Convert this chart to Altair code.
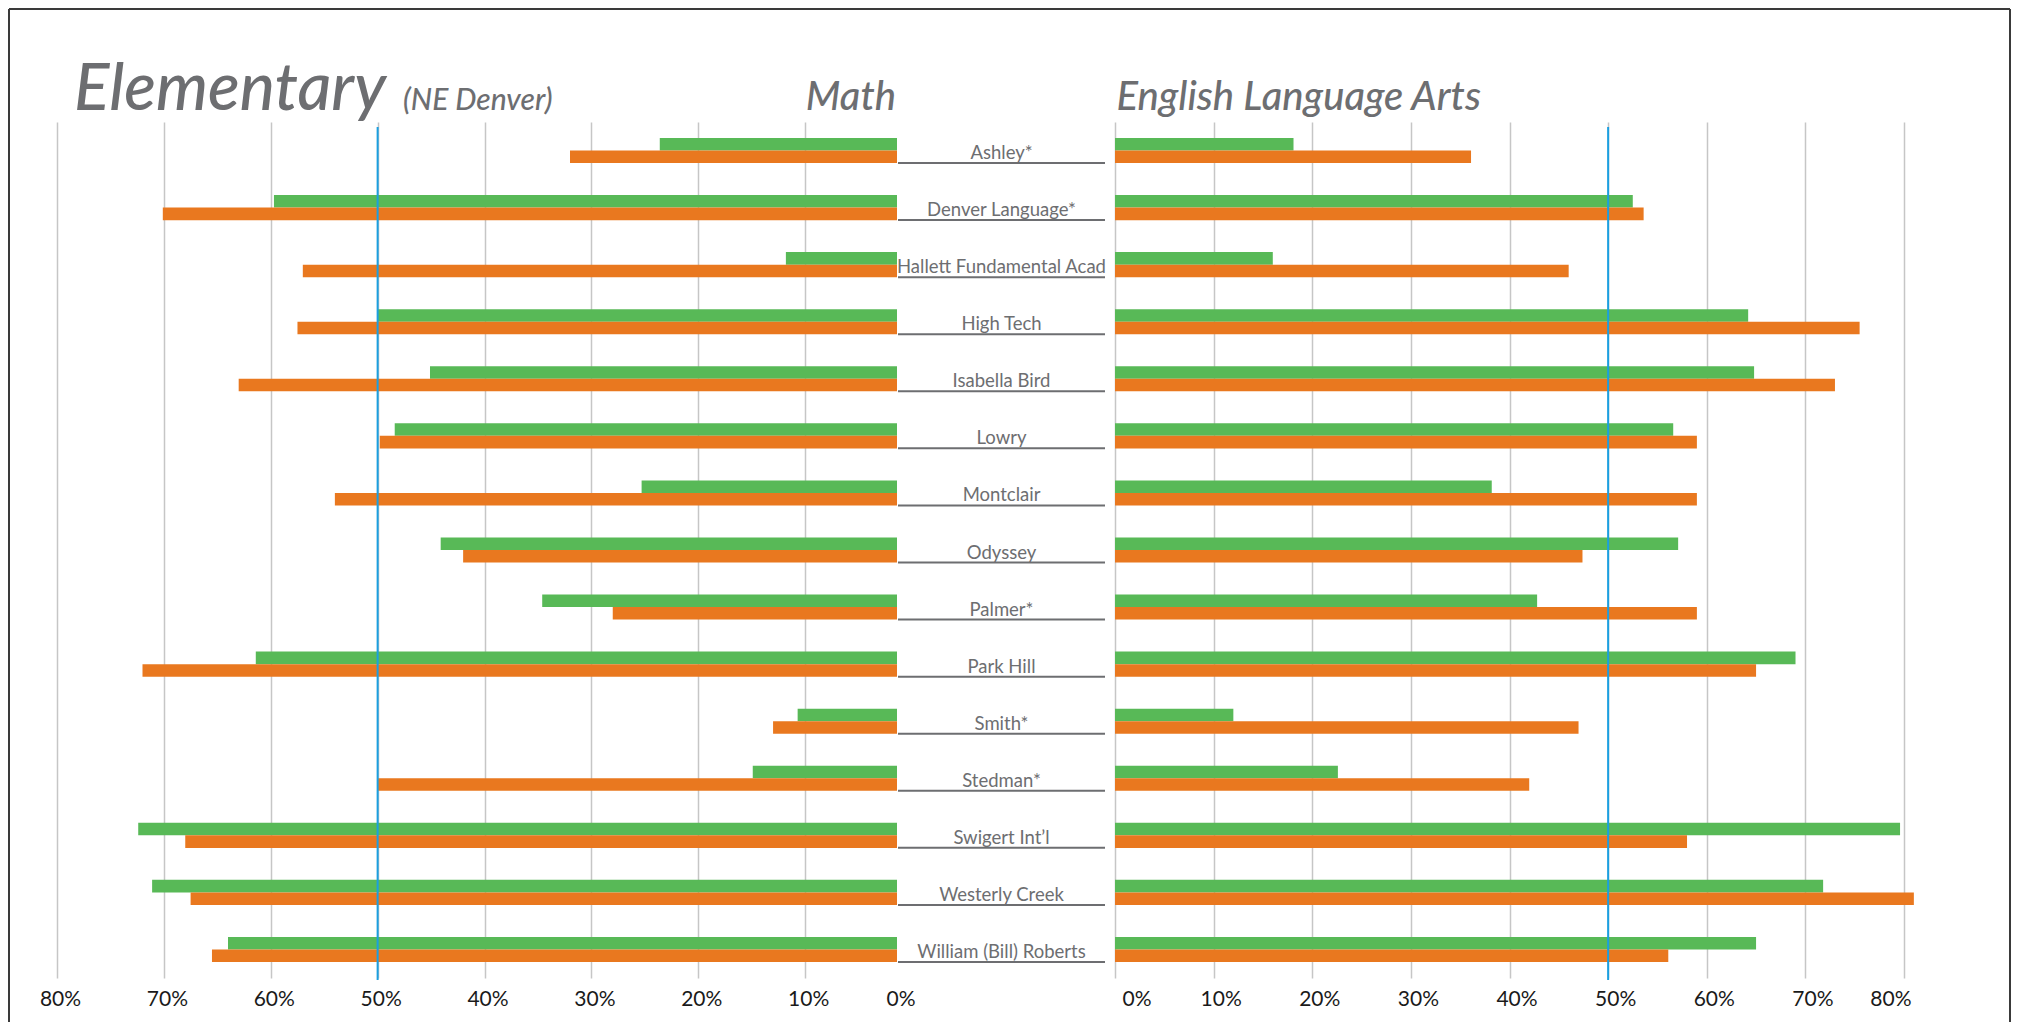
import altair as alt
import pandas as pd

# ---------------- data ----------------
schools = [
    "Ashley*", "Denver Language*", "Hallett Fundamental Acad", "High Tech",
    "Isabella Bird", "Lowry", "Montclair", "Odyssey", "Palmer*", "Park Hill",
    "Smith*", "Stedman*", "Swigert Int\u2019l", "Westerly Creek",
    "William (Bill) Roberts",
]
series_names = ["Green series", "Orange series"]

math_green = [23.6, 59.7, 11.8, 50.0, 45.1, 48.4, 25.3, 44.1, 34.6, 61.4, 10.7, 14.9, 72.4, 71.1, 64.0]
math_orange = [32.0, 70.1, 57.0, 57.5, 63.0, 49.8, 54.0, 42.0, 28.0, 72.0, 13.0, 50.0, 68.0, 67.5, 65.5]
ela_green = [18.1, 52.5, 16.0, 64.2, 64.8, 56.6, 38.2, 57.1, 42.8, 69.0, 12.0, 22.6, 79.6, 71.8, 65.0]
ela_orange = [36.1, 53.6, 46.0, 75.5, 73.0, 59.0, 59.0, 47.4, 59.0, 65.0, 47.0, 42.0, 58.0, 81.0, 56.1]

pct_ticks = [0, 0.1, 0.2, 0.3, 0.4, 0.5, 0.6, 0.7, 0.8]
target_line = [0.5]

main_title = "Elementary"
sub_title = "(NE Denver)"
math_title = "Math"
ela_title = "English Language Arts"

# ---------------- styling ----------------
GREEN = "#58b957"
ORANGE = "#e9781f"
GREY = "#6d6e71"
BLUE = "#1b9fe0"
GRID = "#c6c6c6"
FRAME = "#3a3a3a"
NARROW = "Lato"
TICKFONT = "Lato"
H = 856
NO_VIEW = alt.ViewBackground(stroke=None, strokeWidth=0)


def long_df(g, o):
    rows = []
    for s, a, b in zip(schools, g, o):
        rows.append({"school": s, "series": series_names[0], "value": a / 100})
        rows.append({"school": s, "series": series_names[1], "value": b / 100})
    return pd.DataFrame(rows)


math_df = long_df(math_green, math_orange)
ela_df = long_df(ela_green, ela_orange)
label_df = pd.DataFrame({"school": schools})
one = pd.DataFrame({"k": [0]})

y_scale = alt.Scale(domain=schools, paddingInner=0.56, paddingOuter=0.28)
y_enc = alt.Y("school:N", scale=y_scale, axis=None, sort=schools)
yoff = alt.YOffset("series:N", scale=alt.Scale(domain=series_names))
color = alt.Color("series:N", scale=alt.Scale(domain=series_names, range=[GREEN, ORANGE]), legend=None)


def pct_axis(offset, left=False):
    kw = dict(
        values=pct_ticks, format=".0%", domain=False, ticks=False, title=None,
        grid=True, gridColor=GRID, gridWidth=1.5,
        labelFont=TICKFONT, labelFontSize=21, labelColor="#1a1a1a",
        labelPadding=10, labelOffset=offset,
    )
    if left:
        kw["gridOpacity"] = {"condition": {"test": "datum.value === 0", "value": 0}, "value": 1}
        kw["labelAlign"] = {"condition": {"test": "datum.value === 0", "value": "right"}, "value": "center"}
    return alt.Axis(**kw)


# ---------------- left panel (Math) ----------------
left_x_scale = alt.Scale(domain=[0, 0.8], range=[855, 0])
left_bars = alt.Chart(math_df).mark_bar(clip=True).encode(
    x=alt.X("value:Q", scale=left_x_scale, axis=pct_axis(3, left=True)),
    y=y_enc, yOffset=yoff, color=color,
)
left_blue = alt.Chart(pd.DataFrame({"v": target_line})).mark_rule(color=BLUE, strokeWidth=2).encode(
    x=alt.X("v:Q", scale=left_x_scale), y=alt.value(5), y2=alt.value(858)
)
t_main = alt.Chart(pd.DataFrame({"t": [main_title]})).mark_text(
    align="left", baseline="alphabetic", font=NARROW, fontSize=66, fontStyle="italic",
    fontWeight=500, color=GREY
).encode(text="t:N", x=alt.value(17), y=alt.value(-12))
t_sub = alt.Chart(pd.DataFrame({"t": [sub_title]})).mark_text(
    align="left", baseline="alphabetic", font=NARROW, fontSize=30, fontStyle="italic",
    fontWeight=500, color=GREY
).encode(text="t:N", x=alt.value(346), y=alt.value(-12))
t_math = alt.Chart(pd.DataFrame({"t": [math_title]})).mark_text(
    align="right", baseline="alphabetic", font=NARROW, fontSize=40, fontStyle="italic",
    fontWeight=500, color=GREY
).encode(text="t:N", x=alt.value(839), y=alt.value(-12))
frame_top = alt.Chart(one).mark_rule(color=FRAME, strokeWidth=2).encode(
    x=alt.value(-48), x2=alt.value(1953), y=alt.value(-113)
)
frame_left = alt.Chart(one).mark_rule(color=FRAME, strokeWidth=2).encode(
    x=alt.value(-48), y=alt.value(-113), y2=alt.value(900)
)
frame_right = alt.Chart(one).mark_rule(color=FRAME, strokeWidth=2).encode(
    x=alt.value(1953), y=alt.value(-113), y2=alt.value(900)
)
left = alt.layer(left_bars, left_blue, t_main, t_sub, t_math, frame_top, frame_left, frame_right).properties(
    width=840, height=H, view=NO_VIEW
)

# ---------------- middle panel (labels) ----------------
mid_rule = alt.Chart(label_df).mark_rule(color=GREY, strokeWidth=2, yOffset=12.5).encode(
    x=alt.value(1), x2=alt.value(208), y=y_enc
)
mid_text = alt.Chart(label_df).mark_text(
    align="center", baseline="alphabetic", dy=8.5, font=NARROW, fontSize=18.5, color=GREY
).encode(text="school:N", x=alt.value(104.5), y=y_enc)
mid = alt.layer(mid_rule, mid_text).properties(width=217.6, height=H, view=NO_VIEW)

# ---------------- right panel (ELA) ----------------
right_x_scale = alt.Scale(domain=[0, 0.8])
right_bars = alt.Chart(ela_df).mark_bar().encode(
    x=alt.X("value:Q", scale=right_x_scale, axis=pct_axis(7)),
    y=y_enc, yOffset=yoff, color=color,
)
right_blue = alt.Chart(pd.DataFrame({"v": target_line})).mark_rule(color=BLUE, strokeWidth=2).encode(
    x=alt.X("v:Q", scale=right_x_scale), y=alt.value(5), y2=alt.value(858)
)
t_ela = alt.Chart(pd.DataFrame({"t": [ela_title]})).mark_text(
    align="left", baseline="alphabetic", font=NARROW, fontSize=40, fontStyle="italic",
    fontWeight=500, color=GREY
).encode(text="t:N", x=alt.value(1.5), y=alt.value(-12))
right = alt.layer(right_bars, right_blue, t_ela).properties(width=789, height=H, view=NO_VIEW)

chart = (
    alt.hconcat(left, mid, right, spacing=0, bounds="flush")
    .properties(padding={"left": 8, "top": 8, "right": 10, "bottom": 0})
    .configure_view(stroke=None, strokeWidth=0)
    .configure(background="white")
)

chart.save("out.html", embed_options={"renderer": "svg", "actions": False})
